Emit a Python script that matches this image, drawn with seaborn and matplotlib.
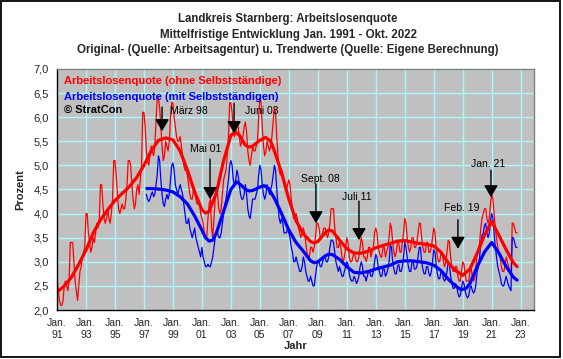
import numpy as np
import pandas as pd
import matplotlib
matplotlib.use("Agg")
import matplotlib.pyplot as plt
from matplotlib.patches import Rectangle
import seaborn as sns

# Monthly original values, red = ohne Selbststaendige (Jan 1991 - Okt 2022)
red_orig = [
    2.7, 2.4, 2.2, 2.1, 2.1, 2.2, 2.5, 2.6, 2.5, 2.4, 2.6, 3.4,   # 1991
    3.4, 3.4, 3.0, 2.6, 2.4, 2.2, 2.5, 2.8, 2.9, 3.1, 3.2, 3.3,   # 1992
    4.0, 4.0, 3.6, 3.4, 3.2, 3.3, 3.5, 3.4, 3.6, 3.8, 3.7, 3.9,   # 1993
    4.6, 4.6, 4.2, 3.9, 3.8, 3.9, 4.1, 3.9, 3.8, 4.0, 4.3, 5.1,   # 1994
    5.1, 4.8, 4.4, 4.1, 4.0, 4.1, 4.2, 4.1, 4.1, 4.3, 4.6, 5.1,   # 1995
    5.1, 5.0, 4.6, 4.3, 4.1, 4.2, 4.5, 4.6, 4.4, 4.7, 5.0, 6.1,   # 1996
    6.1, 5.8, 5.3, 5.1, 5.0, 5.2, 5.4, 5.3, 5.2, 5.4, 5.9, 6.4,   # 1997
    6.4, 6.2, 5.8, 5.4, 5.1, 5.2, 5.5, 5.4, 5.3, 5.5, 6.0, 6.3,   # 1998
    6.3, 6.0, 5.8, 5.6, 5.5, 5.5, 5.6, 5.4, 5.2, 5.0, 4.9, 4.9,   # 1999
    4.8, 4.6, 4.4, 4.3, 4.3, 4.5, 4.5, 4.3, 4.2, 4.2, 4.2, 4.0,   # 2000
    3.9, 3.8, 3.6, 3.5, 3.5, 3.9, 4.2, 4.3, 3.7, 3.5, 3.9, 4.3,   # 2001
    4.5, 4.4, 4.1, 4.0, 4.1, 4.4, 4.7, 4.8, 4.9, 5.2, 5.6, 6.3,   # 2002
    6.3, 6.1, 5.7, 5.6, 5.7, 5.9, 5.8, 5.6, 5.4, 5.5, 5.6, 5.8,   # 2003
    5.9, 5.7, 5.3, 5.1, 5.0, 5.2, 5.4, 5.3, 5.3, 5.4, 5.5, 6.0,   # 2004
    6.4, 6.3, 5.8, 5.4, 5.2, 5.3, 5.5, 5.4, 5.3, 5.4, 5.6, 5.9,   # 2005
    6.2, 6.1, 5.6, 5.2, 4.9, 4.8, 4.9, 4.8, 4.6, 4.5, 4.5, 4.6,   # 2006
    4.7, 4.6, 4.3, 4.1, 3.9, 3.9, 4.0, 3.9, 3.7, 3.6, 3.5, 3.6,   # 2007
    3.7, 3.6, 3.4, 3.2, 3.1, 3.1, 3.3, 3.3, 3.2, 3.3, 3.5, 3.8,   # 2008
    3.8, 3.7, 3.5, 3.5, 3.6, 3.7, 3.7, 3.6, 3.5, 3.6, 3.8, 4.1,   # 2009
    4.1, 4.1, 3.7, 3.5, 3.3, 3.3, 3.4, 3.3, 3.1, 3.0, 3.1, 3.3,   # 2010
    3.5, 3.4, 3.1, 3.0, 3.0, 3.1, 3.2, 3.1, 3.0, 3.0, 3.1, 3.3,   # 2011
    3.5, 3.4, 3.1, 3.1, 3.0, 3.1, 3.3, 3.3, 3.1, 3.2, 3.3, 3.6,   # 2012
    3.7, 3.6, 3.3, 3.2, 3.1, 3.1, 3.3, 3.3, 3.1, 3.2, 3.3, 3.5,   # 2013
    3.8, 3.7, 3.4, 3.2, 3.1, 3.2, 3.4, 3.4, 3.2, 3.2, 3.4, 3.6,   # 2014
    3.9, 3.8, 3.5, 3.3, 3.2, 3.3, 3.5, 3.5, 3.3, 3.3, 3.4, 3.6,   # 2015
    3.8, 3.8, 3.5, 3.3, 3.2, 3.2, 3.4, 3.4, 3.2, 3.2, 3.3, 3.5,   # 2016
    3.7, 3.6, 3.3, 3.1, 3.0, 3.0, 3.2, 3.2, 3.0, 2.9, 3.0, 3.2,   # 2017
    3.45, 3.4, 3.1, 2.9, 2.8, 2.8, 2.9, 2.9, 2.7, 2.6, 2.6, 2.8,  # 2018
    3.0, 2.95, 2.75, 2.6, 2.6, 2.6, 2.8, 2.85, 2.7, 2.6, 2.65, 2.9,  # 2019
    3.2, 3.2, 3.4, 3.7, 3.9, 4.0, 4.1, 4.1, 3.9, 3.8, 3.9, 4.2,   # 2020
    4.4, 4.3, 4.0, 3.7, 3.5, 3.3, 3.2, 3.1, 2.9, 2.8, 2.8, 2.9,   # 2021
    3.1, 3.0, 2.9, 2.8, 2.7, 3.8, 3.8, 3.7, 3.6, 3.6,             # 2022
]

# Monthly original values, blue = mit Selbststaendigen (Maerz 1997 - Okt 2022)
blue_orig = [
    4.4, 4.3, 4.25, 4.3, 4.4, 4.45, 4.35, 4.4, 4.6, 4.8,          # 1997
    5.2, 5.1, 4.7, 4.4, 4.2, 4.15, 4.3, 4.4, 4.3, 4.4, 4.7, 5.0,  # 1998
    5.05, 4.9, 4.6, 4.5, 4.4, 4.5, 4.6, 4.5, 4.4, 4.2, 4.0, 3.8,  # 1999
    3.8, 3.9, 3.7, 3.6, 3.5, 3.6, 3.7, 3.5, 3.4, 3.3, 3.2, 3.1,   # 2000
    3.3, 3.1, 3.0, 2.9, 2.9, 2.95, 2.9, 2.9, 3.0, 3.1, 3.3, 3.5,  # 2001
    3.6, 3.6, 3.5, 3.5, 3.6, 3.8, 4.0, 4.2, 4.3, 4.5, 4.7, 5.0,   # 2002
    5.1, 5.0, 4.7, 4.6, 4.7, 4.9, 4.8, 4.6, 4.4, 4.3, 4.3, 4.4,   # 2003
    4.6, 4.4, 4.1, 3.95, 3.9, 4.1, 4.3, 4.3, 4.3, 4.4, 4.5, 4.8,  # 2004
    5.0, 4.9, 4.6, 4.4, 4.3, 4.4, 4.6, 4.5, 4.4, 4.5, 4.6, 4.8,   # 2005
    5.0, 4.9, 4.5, 4.2, 3.9, 3.8, 3.9, 3.8, 3.6, 3.6, 3.6, 3.7,   # 2006
    3.6, 3.5, 3.3, 3.2, 3.0, 3.0, 3.1, 3.0, 2.9, 2.8, 2.8, 2.9,   # 2007
    3.1, 3.0, 2.8, 2.7, 2.6, 2.6, 2.7, 2.6, 2.5, 2.5, 2.7, 2.9,   # 2008
    3.0, 3.0, 2.9, 2.9, 3.0, 3.1, 3.1, 3.0, 3.0, 3.1, 3.3, 3.45,  # 2009
    3.45, 3.4, 3.2, 3.0, 2.9, 2.8, 2.9, 2.8, 2.7, 2.7, 2.8, 2.9,  # 2010
    3.0, 2.95, 2.75, 2.65, 2.6, 2.6, 2.7, 2.65, 2.55, 2.6, 2.7, 2.9,  # 2011
    3.0, 2.9, 2.7, 2.7, 2.6, 2.7, 2.8, 2.8, 2.7, 2.7, 2.8, 3.0,   # 2012
    3.15, 3.1, 2.9, 2.8, 2.7, 2.7, 2.85, 2.85, 2.7, 2.75, 2.85, 3.0,  # 2013
    3.35, 3.3, 3.0, 2.85, 2.75, 2.75, 2.9, 2.95, 2.8, 2.8, 2.9, 3.1,  # 2014
    3.4, 3.3, 3.1, 2.9, 2.8, 2.8, 3.0, 3.0, 2.85, 2.85, 2.9, 3.1,  # 2015
    3.3, 3.3, 3.0, 2.85, 2.75, 2.75, 2.9, 2.9, 2.75, 2.7, 2.8, 3.0,  # 2016
    3.25, 3.2, 2.95, 2.75, 2.65, 2.65, 2.8, 2.8, 2.65, 2.6, 2.65, 2.8,  # 2017
    3.0, 2.95, 2.7, 2.55, 2.45, 2.45, 2.55, 2.5, 2.35, 2.27, 2.3, 2.45,  # 2018
    2.6, 2.55, 2.4, 2.3, 2.25, 2.3, 2.45, 2.5, 2.4, 2.35, 2.4, 2.55,  # 2019
    2.8, 2.9, 3.1, 3.4, 3.55, 3.6, 3.75, 3.8, 3.6, 3.5, 3.6, 3.85,  # 2020
    4.0, 3.9, 3.6, 3.3, 3.1, 2.9, 2.8, 2.7, 2.55, 2.5, 2.5, 2.6,  # 2021
    2.7, 2.6, 2.5, 2.45, 2.4, 3.5, 3.5, 3.4, 3.3, 3.3,            # 2022
]

# Trend values (read at irregular points in time)
red_trend_t = [1991.0, 1991.5, 1992.0, 1992.5, 1993.0, 1993.5, 1994.0, 1994.5, 1995.0, 1995.5,
               1996.0, 1996.5, 1997.0, 1997.5, 1998.0, 1998.5, 1999.0, 1999.5, 2000.0, 2000.5,
               2001.0, 2001.25, 2001.5, 2002.0, 2002.5, 2003.0, 2003.3, 2003.6, 2004.0, 2004.25,
               2004.5, 2005.0, 2005.4, 2005.75, 2006.0, 2006.5, 2007.0, 2007.5, 2008.0, 2008.5,
               2008.75, 2009.0, 2009.5, 2009.75, 2010.0, 2010.5, 2011.0, 2011.5, 2012.0, 2012.5,
               2013.0, 2013.5, 2014.0, 2014.5, 2015.0, 2015.5, 2016.0, 2016.5, 2017.0, 2017.5,
               2018.0, 2018.5, 2019.0, 2019.5, 2020.0, 2020.5, 2021.0, 2021.5, 2022.0, 2022.5, 2022.75]
red_trend = [2.37, 2.5, 2.68, 2.95, 3.24, 3.6, 3.87, 4.08, 4.27, 4.42,
             4.56, 4.75, 5.0, 5.3, 5.52, 5.57, 5.53, 5.3, 4.9, 4.45,
             4.08, 4.01, 4.05, 4.43, 5.1, 5.62, 5.70, 5.62, 5.42, 5.38,
             5.4, 5.52, 5.58, 5.5, 5.3, 4.85, 4.3, 3.85, 3.58, 3.42,
             3.39, 3.42, 3.6, 3.66, 3.64, 3.45, 3.27, 3.18, 3.18, 3.22,
             3.29, 3.34, 3.38, 3.43, 3.44, 3.41, 3.38, 3.36, 3.33, 3.2,
             2.98, 2.82, 2.72, 2.85, 3.18, 3.55, 3.84, 3.55, 3.25, 2.98, 2.9]

blue_trend_t = [1997.2, 1997.5, 1998.0, 1998.5, 1999.0, 1999.5, 2000.0, 2000.5, 2001.0, 2001.25,
                2001.5, 2001.75, 2002.0, 2002.5, 2003.0, 2003.4, 2003.75, 2004.0, 2004.25, 2004.5,
                2005.0, 2005.3, 2005.6, 2006.0, 2006.5, 2007.0, 2007.5, 2008.0, 2008.5, 2008.75,
                2009.0, 2009.5, 2009.75, 2010.0, 2010.5, 2011.0, 2011.5, 2012.0, 2012.5, 2013.0,
                2013.5, 2014.0, 2014.5, 2015.0, 2015.5, 2016.0, 2016.5, 2017.0, 2017.5, 2018.0,
                2018.5, 2018.9, 2019.25, 2019.5, 2020.0, 2020.5, 2021.0, 2021.5, 2022.0, 2022.5, 2022.75]
blue_trend = [4.52, 4.52, 4.51, 4.49, 4.45, 4.35, 4.2, 3.95, 3.66, 3.5,
              3.43, 3.45, 3.6, 4.05, 4.5, 4.66, 4.58, 4.5, 4.47, 4.48,
              4.55, 4.58, 4.52, 4.32, 4.0, 3.66, 3.4, 3.22, 3.02, 2.98,
              3.0, 3.12, 3.16, 3.15, 3.05, 2.9, 2.78, 2.77, 2.8, 2.85,
              2.89, 2.93, 3.0, 3.02, 3.02, 3.0, 2.98, 2.93, 2.82, 2.64,
              2.5, 2.42, 2.45, 2.55, 2.9, 3.2, 3.4, 3.18, 2.9, 2.68, 2.62]

# Marked events: label, arrow x, arrow top y, arrow tip y, text x, text y, text alignment
event_labels = ["März 98", "Juni 03", "Mai 01", "Sept. 08", "Juli 11", "Feb. 19", "Jan. 21"]
event_x = [1998.25, 2003.22, 2001.56, 2008.87, 2011.84, 2018.67, 2020.95]
event_top = [6.21, 6.29, 5.13, 4.61, 4.26, 3.87, 4.90]
event_tip = [5.71, 5.67, 4.30, 3.80, 3.45, 3.27, 4.34]
event_text_x = [1998.80, 2003.97, 2001.28, 2009.15, 2011.70, 2018.95, 2020.75]
event_text_y = [6.13, 6.13, 5.34, 4.72, 4.34, 4.12, 5.03]
event_ha = ["left", "left", "center", "center", "center", "center", "center"]

tick_years = list(range(1991, 2024, 2))

red_x = 1991 + np.arange(len(red_orig)) / 12
blue_x = 1997 + 2 / 12 + np.arange(len(blue_orig)) / 12

sns.set_style("white")
plt.rcParams['font.family'] = ['Liberation Sans', 'DejaVu Sans']

fig = plt.figure(figsize=(5.63, 3.59), dpi=100, facecolor='white')
ax = fig.add_axes([57 / 563, 1 - 310 / 359, 477 / 563, 241 / 359])
ax.set_facecolor('#c0c0c0')

sns.lineplot(x=red_x, y=red_orig, ax=ax, color='#ff0000', linewidth=0.9, estimator=None)
sns.lineplot(x=blue_x, y=blue_orig, ax=ax, color='#0000ff', linewidth=0.9, estimator=None)
sns.lineplot(x=red_trend_t, y=red_trend, ax=ax, color='#ff0000', linewidth=2.3, estimator=None)
sns.lineplot(x=blue_trend_t, y=blue_trend, ax=ax, color='#0000ff', linewidth=2.3, estimator=None)

ax.set_xlim(1991.0, 2023.92)
ax.set_ylim(2.0, 7.0)
ax.set_xticks(tick_years)
ax.set_xticklabels([f"Jan.\n{y % 100:02d}" for y in tick_years], fontsize=7.5, linespacing=1.2)
yt = np.arange(2.0, 7.01, 0.5)
ax.set_yticks(yt)
ax.set_yticklabels([f"{v:.1f}".replace('.', ',') for v in yt], fontsize=8)
ax.grid(True, color='#a8fafa', linewidth=1.0)
ax.set_axisbelow(True)
ax.tick_params(axis='both', direction='out', length=3, width=0.8, color='black', pad=3)
for side in ['left', 'bottom']:
    ax.spines[side].set_color('black')
    ax.spines[side].set_linewidth(1.0)
for side in ['top', 'right']:
    ax.spines[side].set_color('#808080')
    ax.spines[side].set_linewidth(1.0)

ax.set_xlabel('')
ax.set_ylabel('Prozent', fontsize=8, fontweight='bold', labelpad=6)

for lab, x, top, tip, tx, ty, ha in zip(event_labels, event_x, event_top, event_tip,
                                        event_text_x, event_text_y, event_ha):
    ax.annotate('', xy=(x, tip), xytext=(x, top),
                arrowprops=dict(arrowstyle='-|>,head_length=0.6,head_width=0.35',
                                mutation_scale=12, color='black', lw=1.0,
                                shrinkA=0, shrinkB=0))
    ax.text(tx, ty, lab, fontsize=7.5, ha=ha, va='center', color='black')

ax.text(0.015, 0.951, 'Arbeitslosenquote (ohne Selbstständige)', transform=ax.transAxes,
        color='#ff0000', fontsize=8, fontweight='bold', va='center', ha='left')
ax.text(0.015, 0.885, 'Arbeitslosenquote (mit Selbstständigen)', transform=ax.transAxes,
        color='#0000ff', fontsize=8, fontweight='bold', va='center', ha='left')
ax.text(0.015, 0.830, '© StratCon', transform=ax.transAxes,
        color='black', fontsize=8, fontweight='bold', va='center', ha='left')

fig.text(288 / 563, 1 - 19 / 359, 'Landkreis Starnberg: Arbeitslosenquote',
         fontsize=8.3, fontweight='bold', ha='center', va='center')
fig.text(288 / 563, 1 - 35 / 359, 'Mittelfristige Entwicklung Jan. 1991 - Okt. 2022',
         fontsize=8.3, fontweight='bold', ha='center', va='center')
fig.text(288 / 563, 1 - 50 / 359,
         'Original- (Quelle: Arbeitsagentur) u. Trendwerte (Quelle: Eigene Berechnung)',
         fontsize=8.3, fontweight='bold', ha='center', va='center')
fig.text(284 / 563, 1 - 346 / 359, 'Jahr', fontsize=8, fontweight='bold', ha='left', va='center')

fig.add_artist(Rectangle((0.5 / 563, 1 - 357 / 359), 559.5 / 563, 356.5 / 359,
                         transform=fig.transFigure, fill=False, edgecolor='black', linewidth=1.3))

fig.savefig('out.png', dpi=100, facecolor='white')
